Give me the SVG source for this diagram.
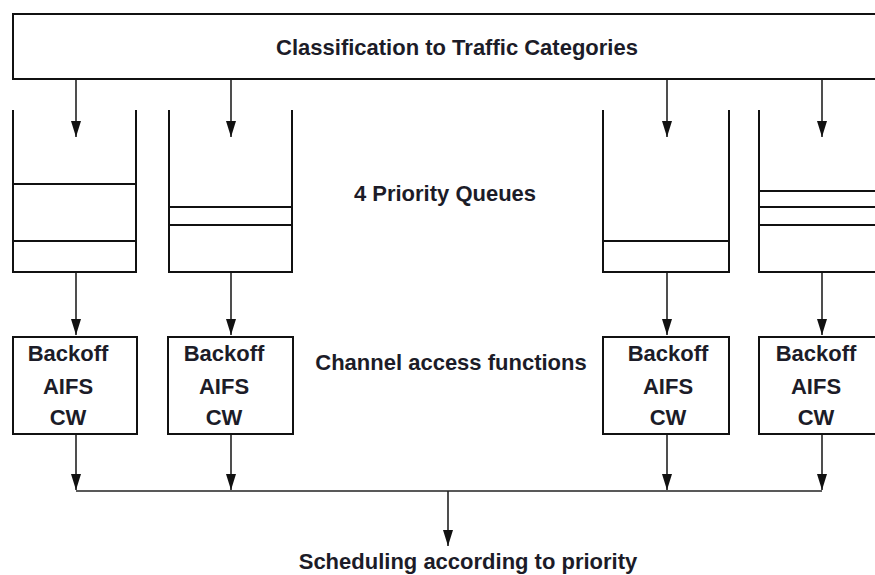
<svg xmlns="http://www.w3.org/2000/svg" width="875" height="575" viewBox="0 0 875 575">
<style>
.box{fill:#fff;stroke:#111;stroke-width:2}
.q{fill:none;stroke:#111;stroke-width:2}
.t{font-family:"Liberation Sans",Arial,sans-serif;font-weight:bold;font-size:22px;fill:#1c1c28;text-anchor:middle}
.c{fill:none;stroke:#222;stroke-width:1.6}
</style>
<defs>
<marker id="ah" viewBox="0 0 16 10" refX="16" refY="5" markerWidth="16" markerHeight="10" markerUnits="userSpaceOnUse" orient="auto">
<path d="M0,0 L16,5 L0,10 Z" fill="#111"/>
</marker>
</defs>
<rect width="875" height="575" fill="#fff"/>

<g id="classification">
<rect class="box" x="13" y="14" width="890" height="65"/>
<text class="t" x="457" y="55">Classification to Traffic Categories</text>
</g>

<g id="queue1">
<path class="q" d="M13,110 V272 H136 V110 M13,184 H136 M13,241 H136"/>
</g>
<g id="queue2">
<path class="q" d="M169,110 V272 H292 V110 M169,207 H292 M169,225 H292"/>
</g>
<g id="queue3">
<path class="q" d="M603,110 V272 H729 V110 M603,241 H729"/>
</g>
<g id="queue4">
<path class="q" d="M759,110 V272 H885 V110 M759,191 H885 M759,207 H885 M759,225 H885"/>
</g>
<g id="label-queues">
<text class="t" x="445" y="201">4 Priority Queues</text>
</g>

<g id="caf1">
<rect class="box" x="13" y="337" width="124" height="97"/>
<text class="t" x="68" y="361">Backoff</text>
<text class="t" x="68" y="394">AIFS</text>
<text class="t" x="68" y="425">CW</text>
</g>
<g id="caf2">
<rect class="box" x="168" y="337" width="125" height="97"/>
<text class="t" x="224" y="361">Backoff</text>
<text class="t" x="224" y="394">AIFS</text>
<text class="t" x="224" y="425">CW</text>
</g>
<g id="caf3">
<rect class="box" x="603" y="337" width="126" height="97"/>
<text class="t" x="668" y="361">Backoff</text>
<text class="t" x="668" y="394">AIFS</text>
<text class="t" x="668" y="425">CW</text>
</g>
<g id="caf4">
<rect class="box" x="759" y="337" width="126" height="97"/>
<text class="t" x="816" y="361">Backoff</text>
<text class="t" x="816" y="394">AIFS</text>
<text class="t" x="816" y="425">CW</text>
</g>
<g id="label-caf">
<text class="t" x="451" y="370">Channel access functions</text>
</g>

<g id="scheduling">
<text class="t" x="468" y="569">Scheduling according to priority</text>
</g>

<g id="connectors">
<line class="c" x1="76" y1="80" x2="76" y2="137" marker-end="url(#ah)"/>
<line class="c" x1="231" y1="80" x2="231" y2="137" marker-end="url(#ah)"/>
<line class="c" x1="667" y1="80" x2="667" y2="137" marker-end="url(#ah)"/>
<line class="c" x1="822" y1="80" x2="822" y2="137" marker-end="url(#ah)"/>

<line class="c" x1="76" y1="273" x2="76" y2="335" marker-end="url(#ah)"/>
<line class="c" x1="231" y1="273" x2="231" y2="335" marker-end="url(#ah)"/>
<line class="c" x1="667" y1="273" x2="667" y2="335" marker-end="url(#ah)"/>
<line class="c" x1="822" y1="273" x2="822" y2="335" marker-end="url(#ah)"/>

<line class="c" x1="76" y1="435" x2="76" y2="490" marker-end="url(#ah)"/>
<line class="c" x1="231" y1="435" x2="231" y2="490" marker-end="url(#ah)"/>
<line class="c" x1="667" y1="435" x2="667" y2="490" marker-end="url(#ah)"/>
<line class="c" x1="822" y1="435" x2="822" y2="490" marker-end="url(#ah)"/>

<line class="c" x1="76" y1="491" x2="822" y2="491"/>
<line class="c" x1="448" y1="491" x2="448" y2="546" marker-end="url(#ah)"/>
</g>
</svg>
